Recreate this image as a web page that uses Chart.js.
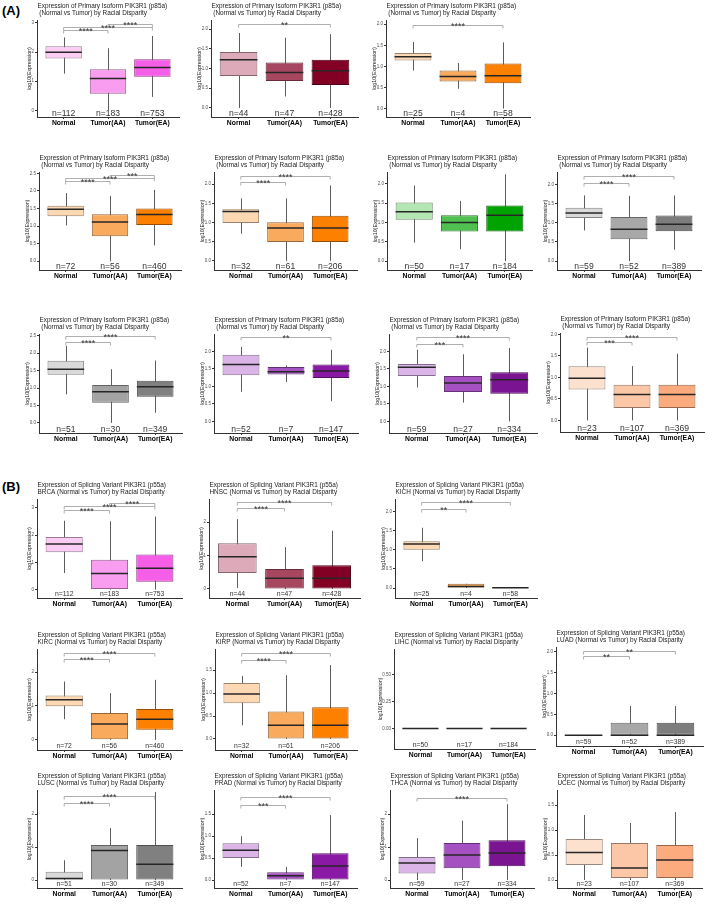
<!DOCTYPE html>
<html>
<head>
<meta charset="utf-8">
<script src="https://cdn.jsdelivr.net/npm/chart.js@4.4.1/dist/chart.umd.min.js"></script>
<style>
body { margin: 0; background: #fff; width: 709px; height: 905px; position: relative; overflow: hidden; font-family: 'Liberation Sans', Arial, sans-serif; }
canvas { position: absolute; }
.tag { position: absolute; font-weight: bold; font-size: 13px; }
</style>
</head>
<body>
<div class="tag" style="left:2px;top:3px">(A)</div>
<div class="tag" style="left:2px;top:479px">(B)</div>
<script>
// ---- data ----
const categories = ['Normal', 'Tumor(AA)', 'Tumor(EA)'];
const cancerTypes = ['BRCA', 'HNSC', 'KICH', 'KIRC', 'KIRP', 'LIHC', 'LUAD', 'LUSC', 'PRAD', 'THCA', 'UCEC'];
const sampleCounts = [[112, 183, 753], [44, 47, 428], [25, 4, 58], [72, 56, 460], [32, 61, 206], [50, 17, 184],
    [59, 52, 389], [51, 30, 349], [52, 7, 147], [59, 27, 334], [23, 107, 369]];

// p85a (primary isoform): whisker low, Q1, median, Q3, whisker high
const p85aLower = [[1.26, 0, 0.46], [0, 0.29, 0], [0.9, 0.47, 0], [1.02, 0, 0.45], [0.71, 0, 0], [0.48, 0.31, 0],
    [0.8, 0, 0.3], [0.82, 0, 0.29], [0.85, 1.13, 0.58], [0.97, 0.54, 0], [0, 0, 0]];
const p85aQ1 = [[1.78, 0.57, 1.15], [0.81, 0.68, 0.58], [1.14, 0.64, 0.6], [1.28, 0.71, 1.03], [0.99, 0.49, 0.49], [1.07, 0.77, 0.77],
    [1.12, 0.57, 0.78], [1.38, 0.58, 0.75], [1.32, 1.34, 1.24], [1.3, 0.84, 0.79], [0.72, 0.29, 0.29]];
const p85aMedian = [[1.99, 1.09, 1.47], [1.22, 0.9, 0.94], [1.23, 0.76, 0.78], [1.48, 1.12, 1.33], [1.29, 0.86, 0.86], [1.28, 1.0, 1.19],
    [1.25, 0.83, 0.96], [1.54, 0.89, 1.04], [1.63, 1.42, 1.44], [1.55, 1.1, 1.19], [0.98, 0.6, 0.6]];
const p85aQ3 = [[2.2, 1.41, 1.75], [1.42, 1.15, 1.22], [1.32, 0.9, 1.07], [1.58, 1.34, 1.5], [1.35, 1.01, 1.18], [1.52, 1.19, 1.44],
    [1.39, 1.15, 1.19], [1.78, 1.09, 1.21], [1.91, 1.56, 1.63], [1.64, 1.3, 1.41], [1.26, 0.83, 0.83]];
const p85aUpper = [[2.5, 2.13, 2.55], [1.9, 1.78, 1.87], [1.58, 1.08, 1.57], [1.94, 1.86, 2.03], [1.63, 1.63, 1.97], [1.96, 1.56, 2.25],
    [1.71, 1.7, 1.71], [2.21, 1.54, 1.79], [2.13, 1.6, 2.05], [2.05, 1.92, 2.1], [1.69, 1.26, 1.55]];
const p85aRange = [[-0.23, 3.1], [-0.23, 2.23], [-0.2, 2.1], [-0.25, 2.54], [-0.24, 2.32], [-0.23, 2.31],
    [-0.23, 2.32], [-0.29, 2.55], [-0.33, 2.5], [-0.33, 2.5], [-0.27, 2.03]];
const p85aTicks = [['0', '1', '2', '3'], ['0.0', '0.5', '1.0', '1.5', '2.0'], ['0.0', '0.5', '1.0', '1.5', '2.0'],
    ['0.0', '0.5', '1.0', '1.5', '2.0', '2.5'], ['0.0', '0.5', '1.0', '1.5', '2.0'], ['0.0', '0.5', '1.0', '1.5', '2.0'],
    ['0.0', '0.5', '1.0', '1.5', '2.0'], ['0.0', '0.5', '1.0', '1.5', '2.0', '2.5'], ['0.0', '0.5', '1.0', '1.5', '2.0'],
    ['0.0', '0.5', '1.0', '1.5', '2.0'], ['0.0', '0.5', '1.0', '1.5', '2.0']];
// significance brackets: [from, to, level, label]
const p85aSig = [
    [[0, 1, 2.74, '****'], [0, 2, 2.87, '****'], [1, 2, 2.97, '****']],
    [[0, 2, 2.13, '**']],
    [[0, 2, 1.98, '****']],
    [[0, 1, 2.29, '****'], [0, 2, 2.38, '****'], [1, 2, 2.46, '***']],
    [[0, 1, 2.06, '****'], [0, 2, 2.21, '****']],
    [],
    [[0, 1, 2.04, '****'], [0, 2, 2.21, '****']],
    [[0, 1, 2.32, '****'], [0, 2, 2.48, '****']],
    [[0, 2, 2.4, '**']],
    [[0, 1, 2.21, '***'], [0, 2, 2.4, '****']],
    [[0, 1, 1.82, '***'], [0, 2, 1.94, '****']]
];

// p55a (splicing variant)
const p55aLower = [[0.61, 0, 0], [0.03, 0, 0], [0.7, 0, 0], [0.61, 0, 0], [0.3, 0, 0], [0, 0, 0],
    [0, 0, 0], [0, 0, 0], [0.3, 0, 0], [0, 0, 0], [0, 0, 0]];
const p55aQ1 = [[1.37, 0, 0.29], [0.48, 0, 0], [1.0, 0, 0], [0.99, 0, 0.3], [0.78, 0, 0], [0, 0, 0],
    [0, 0, 0], [0, 0, 0], [0.5, 0, 0], [0.2, 0.36, 0.42], [0.3, 0.04, 0.04]];
const p55aMedian = [[1.68, 0.59, 0.78], [0.96, 0.32, 0.32], [1.15, 0.04, 0.01], [1.18, 0.47, 0.61], [0.98, 0.3, 0.3], [0, 0, 0],
    [0, 0, 0], [0.05, 0.9, 0.48], [0.68, 0.1, 0.32], [0.52, 0.76, 0.82], [0.55, 0.24, 0.4]];
const p55aQ3 = [[1.93, 1.1, 1.29], [1.37, 0.6, 0.71], [1.22, 0.11, 0.02], [1.31, 0.79, 0.91], [1.22, 0.6, 0.69], [0, 0, 0],
    [0, 0.3, 0.3], [0.25, 1.06, 1.06], [0.84, 0.18, 0.61], [0.7, 1.12, 1.21], [0.82, 0.74, 0.7]];
const p55aUpper = [[2.53, 2.51, 2.69], [2.09, 1.25, 1.74], [1.57, 0.11, 0.02], [1.72, 1.38, 1.77], [1.37, 1.39, 1.61], [0, 0, 0],
    [0, 0.7, 0.7], [0.6, 1.58, 2.67], [1.0, 0.3, 1.48], [1.27, 1.8, 2.3], [1.3, 1.14, 1.36]];
const p55aRange = [[-0.31, 3.33], [-0.27, 2.69], [-0.26, 2.32], [-0.3, 2.68], [-0.24, 1.96], [-0.19, 0.74],
    [-0.26, 2.12], [-0.24, 2.73], [-0.18, 2.05], [-0.24, 2.73], [-0.16, 1.8]];
const p55aTicks = [['0', '1', '2', '3'], ['0', '1', '2'], ['0.0', '0.5', '1.0', '1.5', '2.0'], ['0', '1', '2'],
    ['0.0', '0.5', '1.0', '1.5'], ['0.00', '0.25', '0.50'], ['0.0', '0.5', '1.0', '1.5', '2.0'], ['0', '1', '2'],
    ['0.0', '0.5', '1.0', '1.5'], ['0', '1', '2'], ['0.0', '0.5', '1.0', '1.5']];
const p55aSig = [
    [[0, 1, 2.94, '****'], [0, 2, 3.08, '****'], [1, 2, 3.2, '****']],
    [[0, 1, 2.42, '****'], [0, 2, 2.59, '****']],
    [[0, 1, 2.07, '**'], [0, 2, 2.23, '****']],
    [[0, 1, 2.39, '****'], [0, 2, 2.56, '****']],
    [[0, 1, 1.72, '****'], [0, 2, 1.87, '****']],
    [],
    [[0, 1, 1.9, '**'], [0, 2, 2.02, '**']],
    [[0, 1, 2.33, '****'], [0, 2, 2.55, '****']],
    [[0, 1, 1.7, '***'], [0, 2, 1.89, '****']],
    [[0, 2, 2.5, '****']],
    []
];

// ---- layout / style ----
// plot panel rectangles [left, top, right, bottom] in page pixels
const p85aPlots = [[37, 20, 179, 117], [211, 20, 358, 117], [386, 20, 530, 117],
    [39, 172, 181, 270], [214, 172, 357, 270], [387, 172, 532, 270], [557, 172, 701, 270],
    [39, 334, 182, 433], [214, 334, 358, 433], [389, 334, 537, 433], [560, 333, 704, 432]];
const p55aPlots = [[37, 499, 182, 598], [209, 499, 360, 598], [395, 499, 537, 598],
    [37, 649, 182, 750], [215, 649, 357, 750], [394, 649, 535, 749], [556, 647, 703, 746],
    [37, 790, 182, 888], [214, 790, 357, 888], [390, 790, 534, 888], [557, 790, 702, 888]];

const fillColors = [
    ['#fbcdf5', '#f99df0', '#f55fe8'],
    ['#dcaab8', '#a6475f', '#820024'],
    ['#fdd8b3', '#f9aa5c', '#fe8000'],
    ['#fdd8b3', '#f9aa5c', '#fe8000'],
    ['#fdd8b3', '#f9aa5c', '#fe8000'],
    ['#b4e6b4', '#50c050', '#00a300'],
    ['#dadada', '#a8a8a8', '#7d7d7d'],
    ['#d9d9d9', '#a3a3a3', '#808080'],
    ['#dbb5e7', '#a551c1', '#8a1aa6'],
    ['#dbb5e7', '#a551c1', '#7a1490'],
    ['#fde1cf', '#fcc7a6', '#fbab7d']
];

const FONT = "'Liberation Sans', Arial, sans-serif";
Chart.defaults.font.family = FONT;

const PAD_TOP = 22, PAD_RIGHT = 8, Y_W = 34, X_H = 16;

function darken(hex) {
    const n = parseInt(hex.slice(1), 16);
    const r = Math.round(((n >> 16) & 255) * 0.6);
    const g = Math.round(((n >> 8) & 255) * 0.6);
    const b = Math.round((n & 255) * 0.6);
    return 'rgb(' + r + ',' + g + ',' + b + ')';
}

// whiskers, medians, brackets, n= labels, titles
const boxExtras = {
    id: 'boxExtras',
    beforeDatasetsDraw(chart, args, o) {
        const ctx = chart.ctx, xs = chart.scales.x, ys = chart.scales.y;
        ctx.save();
        ctx.strokeStyle = '#5c5c5c';
        ctx.lineWidth = 1;
        o.lower.forEach((lo, i) => {
            const px = Math.round(xs.getPixelForValue(i + 1)) + 0.5;
            ctx.beginPath();
            ctx.moveTo(px, ys.getPixelForValue(lo));
            ctx.lineTo(px, ys.getPixelForValue(o.upper[i]));
            ctx.stroke();
        });
        ctx.restore();
    },
    afterDatasetsDraw(chart, args, o) {
        const ctx = chart.ctx, xs = chart.scales.x, ys = chart.scales.y;
        const meta = chart.getDatasetMeta(0);
        ctx.save();
        // medians
        ctx.strokeStyle = '#262626';
        ctx.lineWidth = 1.5;
        o.median.forEach((m, i) => {
            const bar = meta.data[i];
            const py = ys.getPixelForValue(m);
            ctx.beginPath();
            ctx.moveTo(bar.x - bar.width / 2, py);
            ctx.lineTo(bar.x + bar.width / 2, py);
            ctx.stroke();
        });
        // brackets
        o.sig.forEach(s => {
            const x1 = xs.getPixelForValue(s[0] + 1), x2 = xs.getPixelForValue(s[1] + 1);
            const py = Math.round(ys.getPixelForValue(s[2])) + 0.5;
            ctx.strokeStyle = '#9a9a9a';
            ctx.lineWidth = 0.8;
            ctx.beginPath();
            ctx.moveTo(x1, py + 3);
            ctx.lineTo(x1, py);
            ctx.lineTo(x2, py);
            ctx.lineTo(x2, py + 3);
            ctx.stroke();
            ctx.fillStyle = '#333';
            ctx.font = '9px ' + FONT;
            ctx.textAlign = 'center';
            ctx.textBaseline = 'alphabetic';
            ctx.fillText(s[3], (x1 + x2) / 2, py + 3);
        });
        // sample sizes
        ctx.fillStyle = '#333';
        ctx.font = o.nSize + 'px ' + FONT;
        ctx.textAlign = 'center';
        ctx.textBaseline = 'alphabetic';
        o.n.forEach((n, i) => {
            ctx.fillText('n=' + n, xs.getPixelForValue(i + 1), chart.chartArea.bottom - o.nLift);
        });
        ctx.restore();
    },
    afterDraw(chart, args, o) {
        const ctx = chart.ctx, area = chart.chartArea;
        ctx.save();
        ctx.fillStyle = '#1a1a1a';
        ctx.font = '6.4px ' + FONT;
        ctx.textAlign = 'left';
        ctx.textBaseline = 'alphabetic';
        ctx.fillText(o.title[0], area.left + 0.5, area.top - 12.5);
        ctx.fillText(o.title[1], area.left + 0.5, area.top - 5.3);
        // y axis title
        ctx.font = '4.5px ' + FONT;
        const tw = Math.max(...o.ticks.map(t => ctx.measureText(t).width));
        ctx.font = '5.3px ' + FONT;
        ctx.translate(area.left - tw - 5, (area.top + area.bottom) / 2);
        ctx.rotate(-Math.PI / 2);
        ctx.textAlign = 'center';
        ctx.textBaseline = 'middle';
        ctx.fillText('log10(Expression)', 0, 0);
        ctx.restore();
    }
};

function makePanel(rect, k, stats, range, ticks, sig, title, nSize, nLift) {
    const [L, T, R, B] = rect;
    const canvas = document.createElement('canvas');
    const w = (R - L) + Y_W + PAD_RIGHT;
    const h = (B - T) + PAD_TOP + X_H;
    canvas.width = w;
    canvas.height = h;
    canvas.style.left = (L - Y_W) + 'px';
    canvas.style.top = (T - PAD_TOP) + 'px';
    canvas.style.width = w + 'px';
    canvas.style.height = h + 'px';
    document.body.appendChild(canvas);

    const tickVals = ticks.map(t => parseFloat(t));
    const fills = fillColors[k];

    new Chart(canvas, {
        type: 'bar',
        data: {
            datasets: [{
                data: categories.map((c, i) => ({ x: i + 1, y: [stats.q1[i], stats.q3[i]] })),
                backgroundColor: fills,
                borderColor: fills.map(darken),
                borderWidth: 1,
                borderSkipped: false,
                barPercentage: 0.82,
                categoryPercentage: 1
            }]
        },
        options: {
            responsive: false,
            animation: false,
            devicePixelRatio: 1,
            layout: { padding: { top: PAD_TOP, right: PAD_RIGHT, left: 0, bottom: 0 } },
            plugins: {
                legend: { display: false },
                tooltip: { enabled: false },
                boxExtras: {
                    lower: stats.lower, upper: stats.upper, median: stats.median,
                    sig: sig, n: sampleCounts[k], title: title, ticks: ticks,
                    nSize: nSize, nLift: nLift
                }
            },
            scales: {
                x: {
                    type: 'linear',
                    min: 0.4,
                    max: 3.6,
                    offset: false,
                    afterBuildTicks: s => { s.ticks = [1, 2, 3].map(v => ({ value: v })); },
                    afterFit: s => { s.height = X_H; },
                    grid: { drawOnChartArea: false, offset: false, tickLength: 2, color: '#333' },
                    border: { color: '#333', width: 1 },
                    ticks: {
                        callback: v => categories[v - 1],
                        font: { size: 6.8, weight: 'bold' },
                        color: '#000',
                        padding: 0,
                        maxRotation: 0,
                        autoSkip: false
                    }
                },
                y: {
                    min: range[0],
                    max: range[1],
                    afterBuildTicks: s => { s.ticks = tickVals.map(v => ({ value: v })); },
                    afterFit: s => { s.width = Y_W; },
                    grid: { drawOnChartArea: false, tickLength: 2, color: '#333' },
                    border: { color: '#333', width: 1 },
                    ticks: {
                        callback: v => ticks[tickVals.indexOf(v)],
                        font: { size: 4.5 },
                        color: '#4d4d4d',
                        padding: 1,
                        autoSkip: false
                    }
                }
            }
        },
        plugins: [boxExtras]
    });
}

cancerTypes.forEach((c, k) => {
    makePanel(p85aPlots[k], k,
        { lower: p85aLower[k], q1: p85aQ1[k], median: p85aMedian[k], q3: p85aQ3[k], upper: p85aUpper[k] },
        p85aRange[k], p85aTicks[k], p85aSig[k],
        ['Expression of Primary Isoform PIK3R1 (p85a)', ' (Normal vs Tumor) by Racial Disparity'], 8.6, 1.2);
});

cancerTypes.forEach((c, k) => {
    makePanel(p55aPlots[k], k,
        { lower: p55aLower[k], q1: p55aQ1[k], median: p55aMedian[k], q3: p55aQ3[k], upper: p55aUpper[k] },
        p55aRange[k], p55aTicks[k], p55aSig[k],
        ['Expression of Splicing Variant PIK3R1 (p55a)', c + ' (Normal vs Tumor) by Racial Disparity'], 6.8, 2.5);
});
</script>
</body>
</html>
